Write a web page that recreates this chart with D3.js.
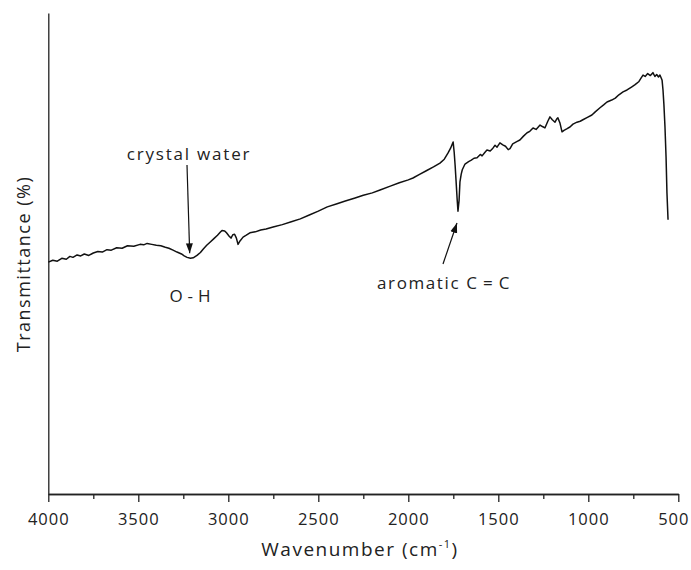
<!DOCTYPE html>
<html>
<head>
<meta charset="utf-8">
<script src="https://cdn.jsdelivr.net/npm/d3@7"></script>
<style>
    body { margin: 0; background: #fff; }
    svg { display: block; }
    .axis text { font-family: "Open Sans", sans-serif; font-size: 16.5px; fill: #222; letter-spacing: 1px; }
    .axis path, .axis line { stroke: #222; stroke-width: 1.3; }
    .label { font-family: "Open Sans", sans-serif; fill: #222; }
</style>
</head>
<body>
<svg id="chart" width="691" height="570"></svg>
<script>
// IR spectrum (wavenumber in cm-1, transmittance in arbitrary %)
var wavenumber = [
    4000, 3975, 3950, 3925, 3900, 3880, 3863, 3840, 3820, 3800, 3775, 3750, 3725, 3700, 3674, 3650,
    3620, 3590, 3560, 3525, 3490, 3470, 3451, 3425, 3400, 3375, 3350, 3330, 3307, 3285, 3260, 3245,
    3229, 3210, 3195, 3174, 3155, 3140, 3120, 3100, 3080, 3060, 3045, 3035, 3020, 3010, 2995, 2985,
    2975, 2965, 2955, 2946, 2935, 2918, 2900, 2880, 2850, 2820, 2790, 2751, 2700, 2650, 2600, 2550,
    2500, 2450, 2400, 2350, 2300, 2250, 2200, 2157, 2100, 2050, 2000, 1974, 1940, 1900, 1860, 1824,
    1800, 1779, 1765, 1751, 1745, 1740, 1735, 1729, 1724, 1718, 1713, 1706, 1700, 1685, 1665, 1650,
    1635, 1618, 1600, 1590, 1575, 1563, 1545, 1530, 1518, 1507, 1491, 1475, 1460, 1445, 1435, 1420,
    1410, 1395, 1380, 1360, 1340, 1325, 1307, 1290, 1268, 1255, 1241, 1225, 1213, 1200, 1185, 1175,
    1169, 1158, 1146, 1135, 1120, 1102, 1085, 1063, 1045, 1030, 1005, 980, 960, 935, 915, 896,
    870, 850, 830, 807, 785, 760, 740, 720, 708, 696, 684, 670, 655, 641, 630, 620,
    610, 602, 595, 590, 585, 580, 574, 568, 563, 557
];
var transmittance = [
    48.2, 48.6, 48.4, 49.0, 48.8, 49.4, 49.2, 49.7, 49.5, 49.9, 49.6, 50.1, 50.4, 50.3, 50.8, 50.7,
    51.2, 51.1, 51.6, 51.5, 51.9, 51.8, 52.1, 51.9, 51.7, 51.6, 51.3, 51.1, 50.7, 50.3, 49.9, 49.5,
    49.2, 49.0, 49.1, 49.6, 50.2, 50.9, 51.7, 52.4, 53.1, 53.8, 54.4, 54.8, 54.7, 54.3, 53.6, 53.2,
    53.9, 54.0, 53.2, 51.9, 52.6, 53.4, 53.8, 54.3, 54.5, 54.9, 55.1, 55.5, 56.0, 56.6, 57.2, 58.0,
    58.8, 59.7, 60.3, 60.9, 61.5, 62.1, 62.6, 63.2, 64.0, 64.7, 65.3, 65.7, 66.4, 67.2, 68.0, 68.8,
    69.6, 70.9, 71.9, 73.2, 71.0, 68.4, 65.3, 61.5, 58.8, 61.0, 64.9, 66.5, 67.4, 68.6, 69.1, 69.4,
    69.8, 69.9, 70.6, 70.3, 71.0, 71.5, 71.3, 71.9, 72.5, 72.1, 73.0, 72.6, 72.3, 71.6, 71.8, 72.8,
    73.0, 73.3, 73.6, 74.4, 75.1, 75.4, 76.1, 75.8, 76.7, 76.4, 76.1, 77.5, 78.4, 77.8, 77.3, 78.0,
    78.2, 77.2, 75.3, 75.6, 75.9, 76.3, 76.9, 77.3, 77.5, 77.8, 78.3, 78.8, 79.5, 80.3, 80.9, 81.5,
    81.9, 82.3, 83.0, 83.6, 84.0, 84.6, 85.1, 85.7, 86.4, 87.1, 86.8, 87.4, 87.0, 87.6, 86.8, 87.2,
    86.7, 87.1, 86.5, 86.0, 84.0, 81.0, 76.3, 70.0, 62.6, 57.0
];

var majorTicks = [4000, 3500, 3000, 2500, 2000, 1500, 1000, 500];
var minorTicks = [3750, 3250, 2750, 2250, 1750, 1250, 750];

// annotations: text, where the arrow points (wavenumber, transmittance)
var annotations = [
    {text: "crystal water", wn: 3220, t: 49.0},
    {text: "aromatic C\u2009=\u2009C", wn: 1724, t: 58.0}
];
var bandLabel = {text: "O\u2009-\u2009H", wn: 3210};


var svg = d3.select("#chart");

var x = d3.scaleLinear().domain([4000, 500]).range([48.3, 678.3]);
var y = d3.scaleLinear().domain([0, 100]).range([494, 13]);

var data = wavenumber.map(function (wn, i) { return {wn: wn, t: transmittance[i]}; });

// minor ticks first, the major axis draws its line over them
svg.append("g")
    .attr("class", "axis")
    .attr("transform", "translate(0,494)")
    .call(d3.axisBottom(x).tickValues(minorTicks).tickSize(5).tickSizeOuter(0).tickFormat(""));

var xAxis = svg.append("g")
    .attr("class", "axis")
    .attr("transform", "translate(0,494)")
    .call(d3.axisBottom(x).tickValues(majorTicks).tickSize(8).tickSizeOuter(0).tickPadding(11)
        .tickFormat(d3.format("d")));

// the last label sits right on the page edge, nudge it in
xAxis.selectAll(".tick text")
    .filter(function (d) { return d === 500; })
    .attr("dx", -5);

// y axis has no ticks, only the line
svg.append("g")
    .attr("class", "axis")
    .attr("transform", "translate(48.3,0)")
    .call(d3.axisLeft(y).tickValues([]).tickSizeOuter(0));

var line = d3.line()
    .x(function (d) { return x(d.wn); })
    .y(function (d) { return y(d.t); });

svg.append("path")
    .datum(data)
    .attr("d", line)
    .attr("fill", "none")
    .attr("stroke", "#111")
    .attr("stroke-width", 1.5)
    .attr("stroke-linejoin", "round");

// axis titles
var xTitle = svg.append("text")
    .attr("class", "label")
    .attr("x", 360)
    .attr("y", 556)
    .attr("text-anchor", "middle")
    .style("font-size", "19px")
    .style("letter-spacing", "1.5px");
xTitle.append("tspan").text("Wavenumber (cm");
xTitle.append("tspan").attr("dy", -8).style("font-size", "11px").text("-1");
xTitle.append("tspan").attr("dy", 8).text(")");

svg.append("text")
    .attr("class", "label")
    .attr("transform", "translate(30,264) rotate(-90)")
    .attr("text-anchor", "middle")
    .style("font-size", "18px")
    .style("letter-spacing", "1.5px")
    .text("Transmittance (%)");

// arrow head
svg.append("defs").append("marker")
    .attr("id", "arrow")
    .attr("viewBox", "0 0 10 10")
    .attr("refX", 10)
    .attr("refY", 5)
    .attr("markerWidth", 10)
    .attr("markerHeight", 10)
    .attr("markerUnits", "userSpaceOnUse")
    .attr("orient", "auto")
    .append("path")
    .attr("d", "M0,1.5 L10,5 L0,8.5 Z")
    .attr("fill", "#111");

// crystal water: text above, arrow straight down to the dip
var a0 = annotations[0];
svg.append("text")
    .attr("class", "label")
    .attr("x", 189)
    .attr("y", 160)
    .attr("text-anchor", "middle")
    .style("font-size", "17px")
    .style("letter-spacing", "1.8px")
    .text(a0.text);
svg.append("line")
    .attr("x1", 187).attr("y1", 165)
    .attr("x2", x(a0.wn) + 1).attr("y2", y(a0.t) - 5)
    .attr("stroke", "#111")
    .attr("stroke-width", 1.2)
    .attr("marker-end", "url(#arrow)");

svg.append("text")
    .attr("class", "label")
    .attr("x", x(bandLabel.wn))
    .attr("y", 302)
    .attr("text-anchor", "middle")
    .style("font-size", "17px")
    .style("letter-spacing", "1px")
    .text(bandLabel.text);

// aromatic C=C: text below, arrow pointing up to the sharp dip
var a1 = annotations[1];
svg.append("text")
    .attr("class", "label")
    .attr("x", 444)
    .attr("y", 289)
    .attr("text-anchor", "middle")
    .style("font-size", "17px")
    .style("letter-spacing", "1.6px")
    .text(a1.text);
svg.append("line")
    .attr("x1", 443).attr("y1", 264)
    .attr("x2", x(a1.wn) - 1).attr("y2", y(a1.t) + 8)
    .attr("stroke", "#111")
    .attr("stroke-width", 1.2)
    .attr("marker-end", "url(#arrow)");
</script>
</body>
</html>
